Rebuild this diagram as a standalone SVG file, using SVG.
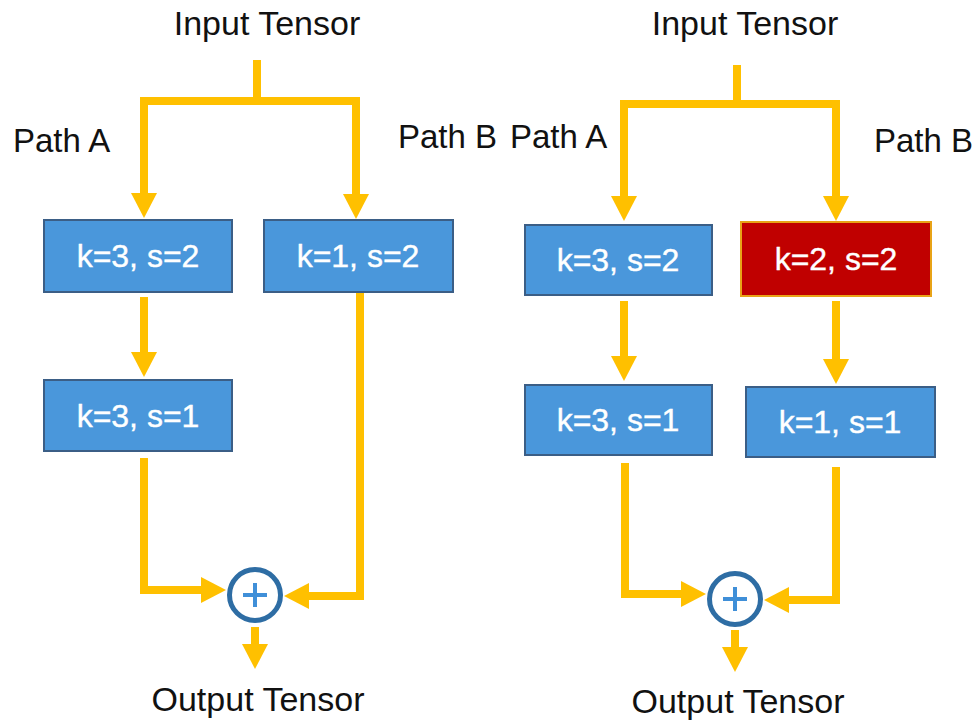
<svg xmlns="http://www.w3.org/2000/svg" width="973" height="724" viewBox="0 0 973 724">
<defs>
<marker id="arr" viewBox="0 0 25 26" markerUnits="userSpaceOnUse" markerWidth="25" markerHeight="26" refX="1" refY="13" orient="auto">
<path d="M0,0 L25,13 L0,26 Z" fill="#FFC000"/>
</marker>
</defs>
<style>
.lbl{font-family:"Liberation Sans",Arial,sans-serif;fill:#111;}
.t{font-size:34px;text-anchor:middle;}
.p{font-size:33px;}
.bx{fill:#4A97DB;stroke:#3B5E86;stroke-width:2;}
.red{fill:#C00000;stroke:#E8A317;stroke-width:2;}
.bt{font-family:"Liberation Sans",Arial,sans-serif;font-size:32px;fill:#fff;stroke:#fff;stroke-width:0.4;text-anchor:middle;}
.c{fill:none;stroke:#FFC000;stroke-width:8;stroke-linejoin:miter;}
.ca{fill:none;stroke:#FFC000;stroke-width:8;stroke-linejoin:miter;marker-end:url(#arr);}
.sum{fill:#fff;stroke:#2E6DA4;stroke-width:5;}
.plus{stroke:#3F8FD8;stroke-width:4;fill:none;}
</style>

<g id="labels">
<text class="lbl t" x="267" y="35">Input Tensor</text>
<text class="lbl t" x="745" y="35">Input Tensor</text>
<text class="lbl p" x="13" y="152">Path A</text>
<text class="lbl p" x="398" y="148">Path B</text>
<text class="lbl p" x="510" y="148">Path A</text>
<text class="lbl p" x="874" y="152">Path B</text>
<text class="lbl t" x="258" y="711">Output Tensor</text>
<text class="lbl t" x="738" y="713">Output Tensor</text>
</g>

<g id="connectors">
<path class="c" d="M257,60 V101"/>
<path class="ca" d="M356,101 H144 V194"/>
<path class="ca" d="M356,97 V195"/>
<path class="ca" d="M144,297 V353"/>
<path class="ca" d="M144,458 V590 H202"/>
<path class="ca" d="M360,292 V596 H308"/>
<path class="ca" d="M255,627 V645"/>

<path class="c" d="M737,65 V104"/>
<path class="ca" d="M836,104 H624 V197"/>
<path class="ca" d="M836,100 V197"/>
<path class="ca" d="M624,301 V357"/>
<path class="ca" d="M836,301 V360"/>
<path class="ca" d="M625,463 V594 H682"/>
<path class="ca" d="M836,467 V600 H788"/>
<path class="ca" d="M735,630 V648"/>
</g>

<g id="l_k3s2"><rect class="bx" x="44" y="220" width="188" height="72"/><text class="bt" x="138" y="267">k=3, s=2</text></g>
<g id="l_k1s2"><rect class="bx" x="264" y="220" width="189" height="72"/><text class="bt" x="358" y="267">k=1, s=2</text></g>
<g id="l_k3s1"><rect class="bx" x="44" y="380" width="188" height="71"/><text class="bt" x="138" y="427">k=3, s=1</text></g>
<g id="l_sum"><circle class="sum" cx="255" cy="595" r="25.5"/><path class="plus" d="M243,595 H267 M255,583 V607"/></g>

<g id="r_k3s2"><rect class="bx" x="525" y="225" width="187" height="70"/><text class="bt" x="618" y="271">k=3, s=2</text></g>
<g id="r_k2s2"><rect class="red" x="741" y="222" width="190" height="74"/><text class="bt" x="836" y="270">k=2, s=2</text></g>
<g id="r_k3s1"><rect class="bx" x="525" y="385" width="187" height="70"/><text class="bt" x="618" y="431">k=3, s=1</text></g>
<g id="r_k1s1"><rect class="bx" x="746" y="387" width="189" height="70"/><text class="bt" x="840" y="433">k=1, s=1</text></g>
<g id="r_sum"><circle class="sum" cx="735" cy="599" r="25.5"/><path class="plus" d="M723,599 H747 M735,587 V611"/></g>
</svg>
